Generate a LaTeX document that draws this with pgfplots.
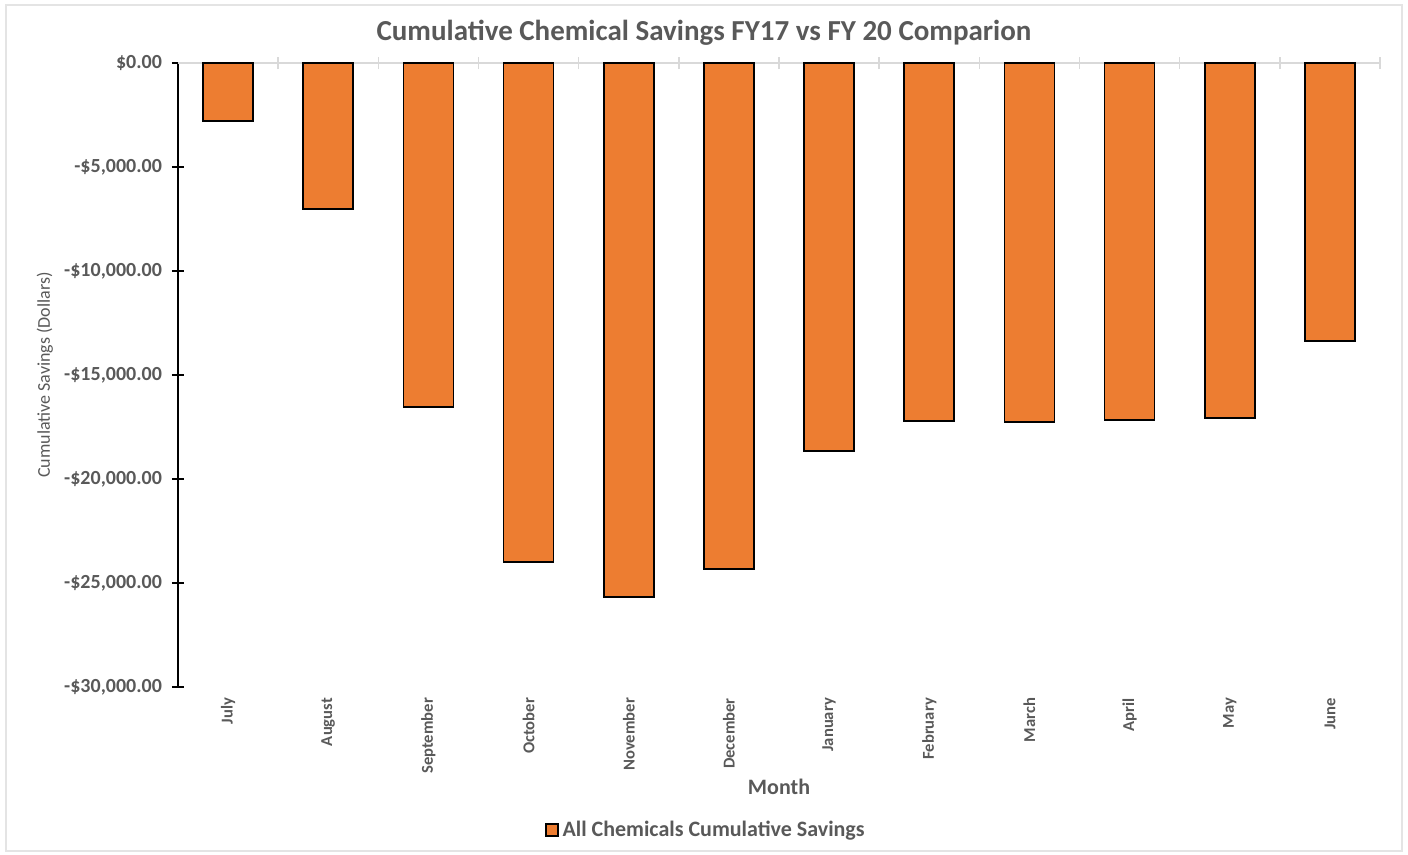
\documentclass[border=0pt]{standalone}
\usepackage{pgfplots}
\pgfplotsset{compat=1.18}
\usepackage{fontspec}
\setmainfont{Carlito}
\definecolor{barorange}{HTML}{ED7D31}
\definecolor{txtgray}{HTML}{595959}
\definecolor{axgray}{HTML}{D9D9D9}

\begin{document}
\begin{tikzpicture}
\useasboundingbox (-89pt,-84pt) rectangle (615pt,343.5pt);
\draw[axgray!70, line width=0.8pt] (-86pt,-82pt) rectangle (612pt,341pt);
\begin{axis}[
    at={(0,0)}, anchor=south west,
    scale only axis,
    width=601pt, height=312pt,
    ybar, bar width=25pt,
    xmin=-0.5, xmax=11.5,
    ymin=-30000, ymax=0,
    scaled y ticks=false,
    axis x line*=bottom, axis y line*=left,
    x axis line style={draw=none},
    y axis line style={black, line width=0.9pt, -},
    xtick={0,...,11},
    xticklabels={July,August,September,October,November,December,January,February,March,April,May,June},
    major x tick style={draw=none},
    xticklabel style={rotate=90, anchor=east, xshift=1pt, font=\bfseries\fontsize{8.3}{10}\selectfont, text=txtgray},
    ytick={-30000,-25000,-20000,-15000,-10000,-5000,0},
    yticklabels={{-\$30,000.00},{-\$25,000.00},{-\$20,000.00},{-\$15,000.00},{-\$10,000.00},{-\$5,000.00},{\$0.00}},
    yticklabel style={xshift=-1.5pt, font=\bfseries\fontsize{10}{12}\selectfont, text=txtgray},
    major y tick style={black, line width=0.9pt},
    tick align=center, major tick length=6pt,
    every axis title shift=0pt,
    title={Cumulative Chemical Savings FY17 vs FY 20 Comparion},
    title style={at={(axis description cs:0.4376,1.048)}, anchor=center, font=\bfseries\fontsize{14.5}{17}\selectfont, text=txtgray},
    xlabel={Month},
    xlabel style={at={(axis description cs:0.5,-0.160)}, anchor=center, font=\bfseries\fontsize{11}{13}\selectfont, text=txtgray},
    ylabel={Cumulative Savings (Dollars)},
    ylabel style={at={(axis description cs:-0.1107,0.5)}, anchor=center, font=\fontsize{9}{11}\selectfont, text=txtgray},
    legend style={at={(0.44,-0.229)}, anchor=center, draw=none, fill=none,
        font=\bfseries\fontsize{11}{13}\selectfont, text=txtgray},
    legend image code/.code={\draw[fill=barorange, draw=black, line width=0.7pt] (0pt,-3pt) rectangle (6pt,3pt);},
    clip=false,
]
\draw[axgray, line width=0.8pt] (axis cs:-0.5,0) -- (axis cs:11.5,0);
\pgfplotsinvokeforeach{0.5,1.5,2.5,3.5,4.5,5.5,6.5,7.5,8.5,9.5,10.5,11.5}{
    \draw[axgray, line width=0.8pt] (axis cs:#1,-300) -- (axis cs:#1,300);
}
\addplot[fill=barorange, draw=black, line width=0.8pt, bar shift=0pt] coordinates {
    (0,-2790) (1,-7020) (2,-16540) (3,-23990) (4,-25670) (5,-24330)
    (6,-18650) (7,-17210) (8,-17260) (9,-17160) (10,-17070) (11,-13370)
};
\addlegendentry{All Chemicals Cumulative Savings}
\end{axis}
\end{tikzpicture}
\end{document}
